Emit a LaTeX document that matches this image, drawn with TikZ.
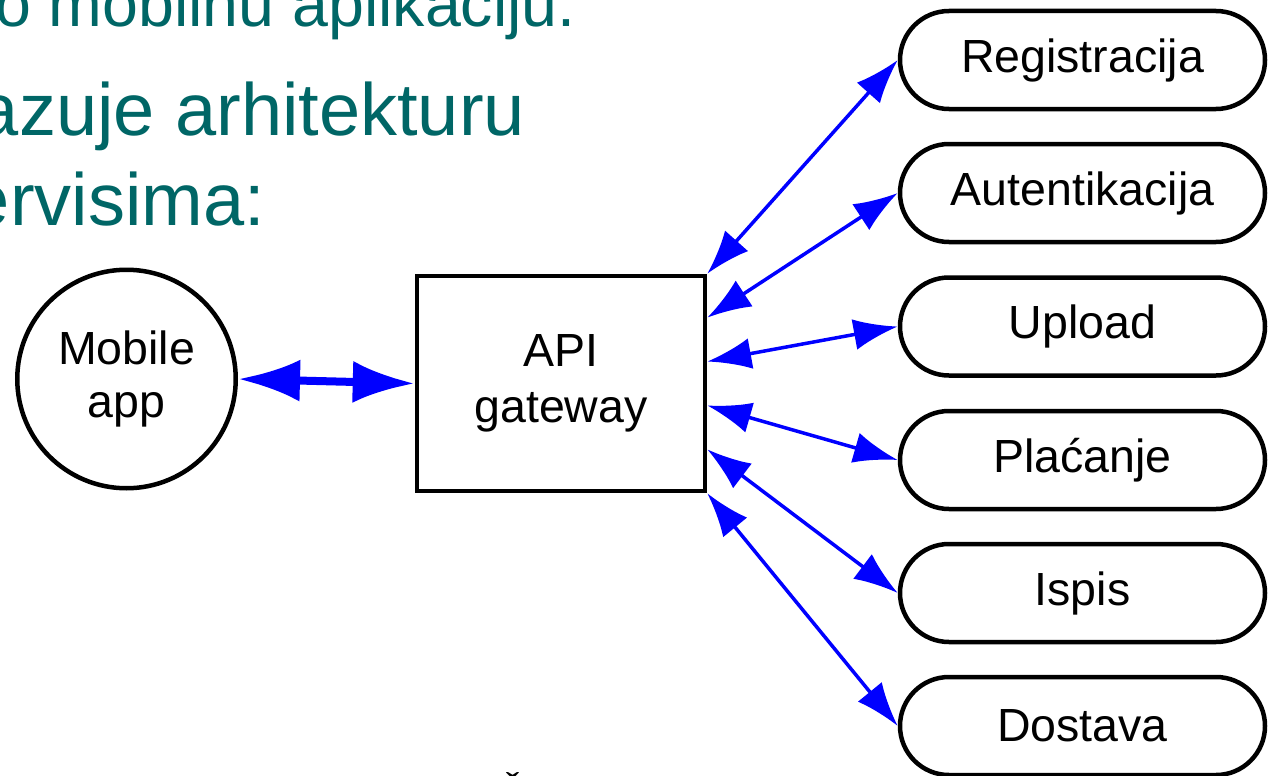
\documentclass[tikz,border=0pt]{standalone}
\usepackage{fontspec}
\setmainfont{Liberation Sans}
\usetikzlibrary{arrows.meta,calc}
\definecolor{slideteal}{RGB}{0,102,102}
\definecolor{conblue}{RGB}{0,0,255}
\tikzset{
  svc/.style={draw, line width=4.5pt, rounded corners=49pt, minimum width=365pt,
    minimum height=98pt, inner sep=0pt, font=\fontsize{46.5}{55}\selectfont},
  gwbox/.style={draw, line width=4.5pt, minimum width=288pt, minimum height=215pt,
    inner sep=0pt, align=center, font=\fontsize{46.5}{56}\selectfont},
  appcircle/.style={draw, circle, line width=4.5pt, minimum size=218.5pt,
    inner sep=0pt, align=center, font=\fontsize{46.5}{53}\selectfont},
  conn/.style={draw=conblue, line width=3.5pt,
    {Latex[length=44pt,width=31pt]}-{Latex[length=44pt,width=31pt]}},
  bigconn/.style={draw=conblue, line width=8pt,
    {Latex[length=62pt,width=42pt]}-{Latex[length=62pt,width=42pt]}},
  slidetext/.style={text=slideteal, inner sep=0pt, outer sep=0pt},
}
\begin{document}
\begin{tikzpicture}[x=1pt,y=-1pt]
\useasboundingbox (0,0) rectangle (1269,776);
\clip (0,0) rectangle (1269,776);

% slide text fragments (cut by the picture's edges, as in the reference)
\node[slidetext, anchor=base west, font=\fontsize{64.5}{77}\selectfont] (t1) at (-5,27) {o mobilnu aplikaciju.};
\node[slidetext, anchor=base east, font=\fontsize{74}{89}\selectfont] (t2) at (525,135) {azuje arhitekturu};
\node[slidetext, anchor=base east, font=\fontsize{74}{89}\selectfont] (t3) at (265,225) {ervisima:};
\node[anchor=base west, inner sep=0pt, font=\fontsize{40}{48}\selectfont] (t4) at (497,807) {Č};

% nodes
\node[appcircle] (app) at (126.5,379) {Mobile\\app};
\node[gwbox] (api) at (561,383.5) {API\\gateway};

\node[svc] (reg) at (1082.5,60) {Registracija};
\node[svc] (aut) at (1082.5,193) {Autentikacija};
\node[svc] (upl) at (1082.5,326.5) {Upload};
\node[svc] (pla) at (1082.5,460) {Plaćanje};
\node[svc] (isp) at (1082.5,593) {Ispis};
\node[svc] (dos) at (1082.5,726) {Dostava};

% connection points on the gateway's right side
\coordinate (g0) at (api.north east);
\coordinate (g1) at ($(api.north east)!0.2!(api.south east)$);
\coordinate (g2) at ($(api.north east)!0.4!(api.south east)$);
\coordinate (g3) at ($(api.north east)!0.6!(api.south east)$);
\coordinate (g4) at ($(api.north east)!0.8!(api.south east)$);
\coordinate (g5) at (api.south east);

% connectors
\draw[bigconn] (app.east) -- (api.west);
\draw[conn] (g0) -- (reg.west);
\draw[conn] (g1) -- (aut.west);
\draw[conn] (g2) -- (upl.west);
\draw[conn] (g3) -- (pla.west);
\draw[conn] (g4) -- (isp.west);
\draw[conn] (g5) -- (dos.west);
\end{tikzpicture}
\end{document}
